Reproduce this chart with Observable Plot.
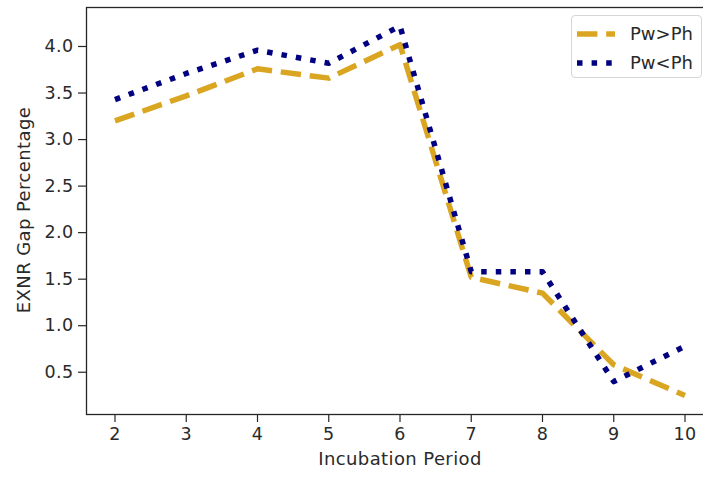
<!DOCTYPE html>
<html>
<head>
<meta charset="utf-8">
<script src="https://cdn.jsdelivr.net/npm/d3@7"></script>
<script src="https://cdn.jsdelivr.net/npm/@observablehq/plot@0.6"></script>
<style>
  html, body { margin: 0; padding: 0; background: #fff; overflow: hidden; }
  #wrap { position: relative; width: 703px; height: 477px; overflow: hidden; font-family: "DejaVu Sans", sans-serif; }
  #legend { position: absolute; left: 571px; top: 15px; width: 131px; height: 63px; box-sizing: border-box;
            border: 1px solid #d6d6d6; border-radius: 4px; background: rgba(255,255,255,0.85); }
  .row { position: absolute; left: 0; height: 28px; }
  .row span { position: absolute; left: 58px; top: 3px; font-size: 18px; color: #2a2a2a; white-space: nowrap; }
  .row svg { position: absolute; left: 5px; top: 0; }
</style>
</head>
<body>
<div id="wrap">
  <div id="legend"></div>
</div>
<script>
// ---- data ----
const periods = [2, 3, 4, 5, 6, 7, 8, 9, 10];
const pwGreaterPh = [3.20, 3.47, 3.76, 3.66, 4.02, 1.52, 1.35, 0.58, 0.25];
const pwLessPh    = [3.43, 3.71, 3.96, 3.82, 4.22, 1.58, 1.58, 0.40, 0.78];
const seriesNames = ["Pw>Ph", "Pw<Ph"];
const yTicks = [0.5, 1.0, 1.5, 2.0, 2.5, 3.0, 3.5, 4.0];
const xLabel = "Incubation Period";
const yLabel = "EXNR Gap Percentage";

const colors = ["#DAA520", "#000080"];
const dashes = ["20.4,8.8", "5.5,9.1"];
const textColor = "#2a2a2a";

const rowsA = periods.map((p, i) => ({period: p, value: pwGreaterPh[i]}));
const rowsB = periods.map((p, i) => ({period: p, value: pwLessPh[i]}));

const chart = Plot.plot({
  width: 713,
  height: 477,
  marginLeft: 86,
  marginRight: 0,
  marginTop: 7,
  marginBottom: 63,
  x: {domain: [1.6, 10.4]},
  y: {domain: [0.046, 4.419]},
  style: {fontFamily: "DejaVu Sans, sans-serif", fontSize: "17.5px", color: textColor, background: "white", maxWidth: "none", overflow: "hidden"},
  marks: [
    Plot.line(rowsA, {x: "period", y: "value", stroke: colors[0], strokeWidth: 5.5, strokeDasharray: dashes[0], strokeLinecap: "butt", strokeLinejoin: "round"}),
    Plot.line(rowsB, {x: "period", y: "value", stroke: colors[1], strokeWidth: 5.5, strokeDasharray: dashes[1], strokeLinecap: "butt", strokeLinejoin: "round"}),
    Plot.frame({stroke: "#262626", strokeWidth: 1.3}),
    Plot.axisX({ticks: periods, tickSize: 8, tickPadding: 5, tickFormat: d => String(d), label: null, stroke: "#262626", strokeWidth: 1.2}),
    Plot.axisY({ticks: yTicks, tickSize: 8, tickPadding: 5, tickFormat: d => d.toFixed(1), label: null, stroke: "#262626", strokeWidth: 1.2}),
    Plot.text([xLabel], {frameAnchor: "bottom", dy: 50, fill: textColor, fontSize: 18}),
    Plot.text([yLabel], {frameAnchor: "left", dx: -62, dy: -1, rotate: -90, textAnchor: "middle", fill: textColor, fontSize: 18})
  ]
});
const wrap = document.getElementById("wrap");
wrap.insertBefore(chart, wrap.firstChild);
chart.querySelectorAll("text").forEach(t => { t.style.letterSpacing = "0.4px"; });

// legend
const legend = document.getElementById("legend");
seriesNames.forEach((name, i) => {
  const row = document.createElement("div");
  row.className = "row";
  row.style.top = (4 + i * 28.5) + "px";
  row.style.width = "100%";
  const ns = "http://www.w3.org/2000/svg";
  const s = document.createElementNS(ns, "svg");
  s.setAttribute("width", 40); s.setAttribute("height", 28);
  const l = document.createElementNS(ns, "line");
  l.setAttribute("x1", 0); l.setAttribute("x2", 38); l.setAttribute("y1", 14); l.setAttribute("y2", 14);
  l.setAttribute("stroke", colors[i]); l.setAttribute("stroke-width", 5.5);
  l.setAttribute("stroke-dasharray", dashes[i]);
  s.appendChild(l);
  const t = document.createElement("span");
  t.textContent = name;
  row.appendChild(s); row.appendChild(t);
  legend.appendChild(row);
});
</script>
</body>
</html>
